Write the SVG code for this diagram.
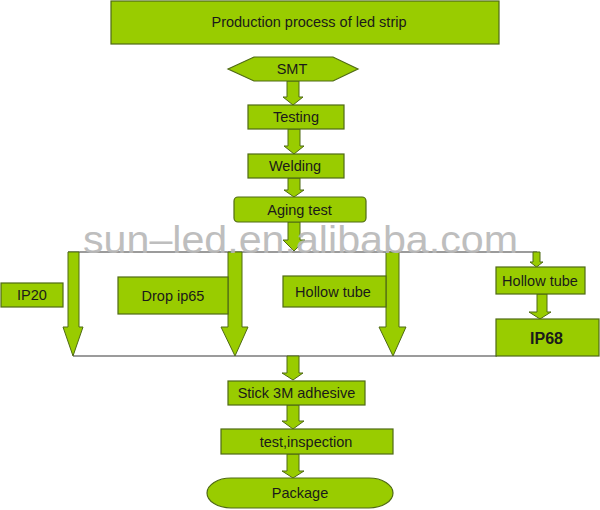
<svg xmlns="http://www.w3.org/2000/svg" width="600" height="510" viewBox="0 0 600 510">
<style>
.box{fill:#99cc00;stroke:#4f6a14;stroke-width:1.2}
.arr{fill:#99cc00;stroke:#4f6a14;stroke-width:1}
.ln{stroke:#7a7a7a;stroke-width:1.5;fill:none}
text{font-family:"Liberation Sans",Arial,sans-serif;font-size:14.5px;fill:#1a1a1a;text-anchor:middle}
.b{font-weight:bold;font-size:16px}
.wm{font-size:38px;fill:#b8b8b8;opacity:0.9;text-anchor:start}
</style>
<rect width="600" height="510" fill="#ffffff"/>
<g id="connectors">
<line class="ln" x1="68" y1="252" x2="537" y2="252"/>
<line class="ln" x1="73" y1="356" x2="497" y2="356"/>
<polygon class="arr" points="287,81 299,81 299,97 303,97 293,105 283,97 287,97"/>
<polygon class="arr" points="288,129 300,129 300,146 304,146 294,154 284,146 288,146"/>
<polygon class="arr" points="288,178 300,178 300,190 304,190 294,197 284,190 288,190"/>
<polygon class="arr" points="288,222 300,222 300,240 305,240 294,251 283,240 288,240"/>
<polygon class="arr" points="68,252 79,252 79,327 83,327 73,356 63,327 68,327"/>
<polygon class="arr" points="228,252 242,252 242,327 248,327 235,356 221,327 228,327"/>
<polygon class="arr" points="386,252 399,252 399,327 406,327 393,356 379,327 386,327"/>
<polygon class="arr" points="533,252 540,252 540,262 543,262 536.5,267 530,262 533,262"/>
<polygon class="arr" points="537,294 547,294 547,312 551,312 540,319 529,312 537,312"/>
<polygon class="arr" points="287,356 299,356 299,373 303,373 293,380 282,373 287,373"/>
<polygon class="arr" points="287,405 299,405 299,421 304,421 293,429 282,421 287,421"/>
<polygon class="arr" points="287,454 299,454 299,471 304,471 293,478 282,471 287,471"/>
</g>
<g id="title"><rect class="box" x="111" y="1" width="388" height="43"/><text x="309" y="27">Production process of led strip</text></g>
<g id="smt"><polygon class="box" points="228,69 254,57 333,57 358,69 333,81 254,81"/><text x="292" y="74">SMT</text></g>
<g id="testing"><rect class="box" x="248" y="105" width="96" height="24"/><text x="296" y="122">Testing</text></g>
<g id="welding"><rect class="box" x="248" y="154" width="96" height="24"/><text x="295" y="171">Welding</text></g>
<g id="aging"><rect class="box" x="234" y="197" width="132" height="25" rx="4"/><text x="299.5" y="215">Aging test</text></g>
<g id="ip20"><rect class="box" x="1" y="283" width="62" height="24"/><text x="32" y="300">IP20</text></g>
<g id="drop"><rect class="box" x="118" y="277" width="110" height="37"/><text x="173" y="300.5">Drop ip65</text></g>
<g id="hollow1"><rect class="box" x="283" y="276" width="103" height="31"/><text x="333" y="296.5">Hollow tube</text></g>
<g id="hollow2"><rect class="box" x="496" y="267" width="89" height="27"/><text x="540" y="285.5">Hollow tube</text></g>
<g id="ip68"><rect class="box" x="496" y="319" width="103" height="37"/><text class="b" x="546.5" y="343.5">IP68</text></g>
<g id="stick"><rect class="box" x="228" y="381" width="137" height="24"/><text x="296.5" y="398">Stick 3M adhesive</text></g>
<g id="inspection"><rect class="box" x="221" y="429" width="172" height="25"/><text x="306" y="446.5">test,inspection</text></g>
<g id="package"><rect class="box" x="207" y="478" width="186" height="30" rx="24" ry="15"/><text x="300" y="498">Package</text></g>
<text class="wm" x="83" y="253" textLength="435" lengthAdjust="spacingAndGlyphs">sun–led.en.alibaba.com</text>
</svg>
